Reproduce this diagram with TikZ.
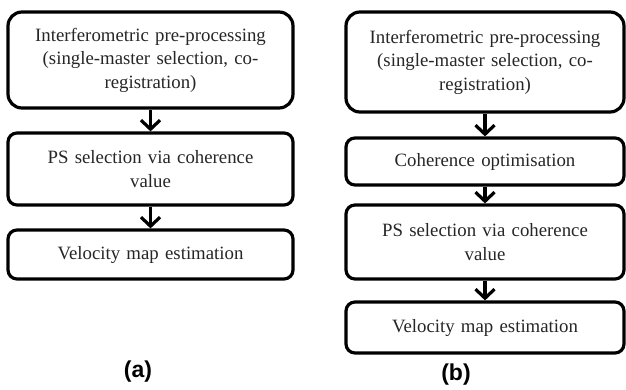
\documentclass[tikz,border=0pt]{standalone}
\usepackage{fontspec}
\setmainfont{Liberation Serif}
\newfontfamily\labfont{Liberation Sans}
\usetikzlibrary{arrows.meta}
\begin{document}
\begin{tikzpicture}[x=1pt,y=-1pt,
  boxbig/.style={draw=black,line width=3.2pt,rounded corners=14pt,align=center,text width=275pt,
    font=\fontsize{18.8}{23.5}\selectfont,inner sep=0pt,text=black!85},
  boxsmall/.style={boxbig,rounded corners=9pt},
  flow/.style={line width=3.2pt,-{Straight Barb[length=9pt,width=19pt,line width=3.2pt]}},
  panellab/.style={font=\labfont\bfseries\fontsize{23}{27}\selectfont,inner sep=0pt}]
\useasboundingbox (0,0) rectangle (626,389);
% (a)
\node[boxbig,minimum width=285pt,minimum height=96pt] (a1) at (150.5,60) {Interferometric pre-processing\\(single-master selection, co-\\registration)};
\node[boxsmall,minimum width=285pt,minimum height=72pt] (a2) at (150.5,169) {PS selection via coherence\\value};
\node[boxsmall,minimum width=285pt,minimum height=49pt] (a3) at (150.5,254.5) {Velocity map estimation};
\draw[flow] (a1.south) -- (a2.north);
\draw[flow] (a2.south) -- (a3.north);
\node[panellab] (la) at (138,372) {(a)};
% (b)
\node[boxbig,minimum width=278pt,minimum height=100pt,text width=268pt] (b1) at (485,62) {Interferometric pre-processing\\(single-master selection, co-\\registration)};
\node[boxsmall,minimum width=278pt,minimum height=47pt,text width=268pt] (b2) at (485,161.5) {Coherence optimisation};
\node[boxsmall,minimum width=278pt,minimum height=74pt,text width=268pt] (b3) at (485,242) {PS selection via coherence\\value};
\node[boxsmall,minimum width=278pt,minimum height=51pt,text width=268pt] (b4) at (485,327.5) {Velocity map estimation};
\draw[flow] (b1.south) -- (b2.north);
\draw[flow] (b2.south) -- (b3.north);
\draw[flow] (b3.south) -- (b4.north);
\node[panellab] (lb) at (456,375) {(b)};
\end{tikzpicture}
\end{document}
